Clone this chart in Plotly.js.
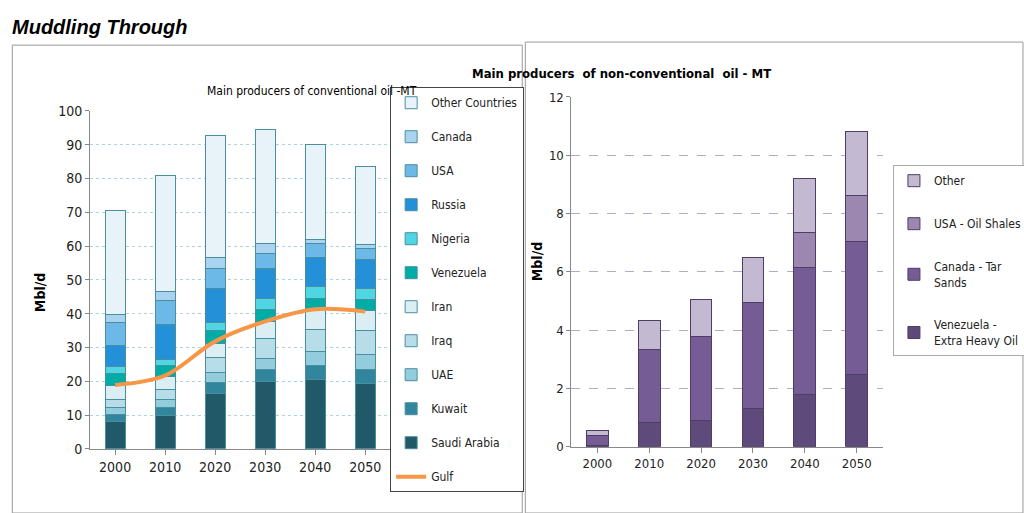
<!DOCTYPE html>
<html><head><meta charset="utf-8">
<script src="https://cdn.plot.ly/plotly-3.0.1.min.js"></script>
<style>body{margin:0}#chart{width:1024px;height:513px}</style>
</head><body><div id="chart"></div>
<script>
// conventional oil, Mbl/d, stacked bottom -> top
var years = ['2000', '2010', '2020', '2030', '2040', '2050'];
var convNames = ['Saudi Arabia', 'Kuwait', 'UAE', 'Iraq', 'Iran', 'Venezuela', 'Nigeria', 'Russia', 'USA', 'Canada', 'Other Countries'];
var convColors = ['#215968', '#31859C', '#93CDDD', '#B7DEE8', '#DAEEF3', '#00ACA6', '#4FD6E2', '#2390D8', '#6CB8E6', '#A9D3EF', '#E8F3F9'];
var saudi   = [8.1, 9.9, 16.5, 19.9, 20.6, 19.2];
var kuwait  = [2.2, 2.4, 3.1, 3.7, 4.1, 4.2];
var uae     = [2.0, 2.4, 3.0, 3.2, 4.1, 4.6];
var iraq    = [2.4, 2.8, 4.4, 5.9, 6.4, 6.9];
var iran    = [3.9, 3.9, 4.3, 5.0, 6.1, 5.9];
var venez   = [3.6, 3.2, 3.6, 3.6, 3.3, 3.5];
var nigeria = [2.2, 1.8, 2.5, 3.2, 3.4, 3.2];
var russia  = [6.2, 10.3, 9.9, 9.0, 8.7, 8.6];
var usa     = [6.8, 7.3, 6.1, 4.4, 4.0, 3.3];
var canada  = [2.2, 2.5, 3.1, 2.9, 1.1, 1.2];
var others  = [30.9, 34.3, 36.1, 33.6, 28.1, 22.9];
var gulf    = [18.9, 21.7, 31.8, 37.7, 41.3, 40.6];
var convSeries = [saudi, kuwait, uae, iraq, iran, venez, nigeria, russia, usa, canada, others];

// non-conventional oil
var ncNames = ['Venezuela -<br>Extra Heavy Oil', 'Canada - Tar<br>Sands', 'USA - Oil Shales', 'Other'];
var ncColors = ['#5F4B7B', '#765C95', '#9C87B0', '#C3B9D0'];
var ncVenez  = [0.03, 0.83, 0.89, 1.31, 1.81, 2.49];
var ncCanada = [0.37, 2.51, 2.91, 3.63, 4.33, 4.56];
var ncUsa    = [0, 0, 0, 0, 1.2, 1.58];
var ncOther  = [0.15, 0.98, 1.25, 1.54, 1.86, 2.17];
var ncSeries = [ncVenez, ncCanada, ncUsa, ncOther];

var font = 'DejaVu Sans Condensed, Liberation Sans Narrow, Arial, sans-serif';
var data = [{
  x: years, y: gulf, name: 'Gulf', type: 'scatter', mode: 'lines',
  line: {color: '#F79646', width: 4, shape: 'spline'},
  xaxis: 'x', yaxis: 'y', legend: 'legend', legendgroup: 'g', legendrank: 100
}];
convSeries.forEach(function (s, i) {
  data.push({x: years, y: s, name: convNames[i], type: 'bar', width: 0.4,
    marker: {color: convColors[i], line: {color: '#4A8FA0', width: 1}},
    xaxis: 'x', yaxis: 'y', legend: 'legend', legendgroup: 'c' + i, legendrank: 50 - i});
});
ncSeries.forEach(function (s, i) {
  data.push({x: years, y: s, name: ncNames[i], type: 'bar', width: 0.42,
    marker: {color: ncColors[i], line: {color: '#4E3D66', width: 1}},
    xaxis: 'x2', yaxis: 'y2', legend: 'legend2', legendgroup: 'n' + i, legendrank: 50 - i});
});

var layout = {
  width: 1024, height: 513, barmode: 'stack', showlegend: true,
  margin: {t: 0, b: 0, l: 0, r: 0, autoexpand: false},
  paper_bgcolor: '#fff', plot_bgcolor: '#fff',
  font: {family: font, size: 13, color: '#222'},
  xaxis: {domain: [0.088, 0.381], type: 'category', anchor: 'y', showline: true, linecolor: '#888',
    ticks: 'outside', ticklen: 5, tickcolor: '#888', tickfont: {size: 14}},
  yaxis: {domain: [0.125, 0.784], range: [0, 100], dtick: 10, anchor: 'x', showline: true, linecolor: '#888',
    ticks: 'outside', ticklen: 4, tickcolor: '#888', gridcolor: '#A8D4E0', griddash: 'dot', zeroline: false,
    tickfont: {size: 14}},
  xaxis2: {domain: [0.558, 0.862], type: 'category', anchor: 'y2', showline: true, linecolor: '#888',
    ticks: 'outside', ticklen: 5, tickcolor: '#888', tickfont: {size: 13}},
  yaxis2: {domain: [0.129, 0.811], range: [0, 12], dtick: 2, anchor: 'x2', showline: true, linecolor: '#888',
    ticks: 'outside', ticklen: 4, tickcolor: '#888', gridcolor: '#B7A9CC', griddash: 'dash', zeroline: false,
    tickfont: {size: 13}},
  legend: {x: 0.381, y: 0.83, xanchor: 'left', yanchor: 'top', traceorder: 'grouped', itemwidth: 30,
    tracegroupgap: 15, bordercolor: '#444', borderwidth: 1, bgcolor: '#fff', font: {size: 12}},
  legend2: {x: 0.872, y: 0.678, xanchor: 'left', yanchor: 'top', traceorder: 'grouped', itemwidth: 30,
    tracegroupgap: 24, bordercolor: '#aaa', borderwidth: 1, bgcolor: '#fff', font: {size: 12}},
  shapes: [
    {type: 'rect', xref: 'paper', yref: 'paper', x0: 0.012, x1: 0.51, y0: 0, y1: 0.912, line: {color: '#999', width: 1}},
    {type: 'rect', xref: 'paper', yref: 'paper', x0: 0.513, x1: 0.999, y0: 0, y1: 0.918, line: {color: '#999', width: 1}}
  ],
  annotations: [
    {text: '<b><i>Muddling Through</i></b>', xref: 'paper', yref: 'paper', x: 0.01, y: 0.948,
      xanchor: 'left', yanchor: 'middle', showarrow: false, font: {family: 'Liberation Sans, Arial', size: 20, color: '#000'}},
    {text: 'Main producers of conventional oil -MT', xref: 'paper', yref: 'paper', x: 0.2, y: 0.84,
      showarrow: false, font: {size: 12, color: '#000'}},
    {text: '<b>Main producers  of non-conventional  oil - MT</b>', xref: 'paper', yref: 'paper', x: 0.755, y: 0.875,
      showarrow: false, font: {size: 13, color: '#000'}},
    {text: '<b>Mbl/d</b>', xref: 'paper', yref: 'paper', x: 0.03, y: 0.43, textangle: -90,
      showarrow: false, font: {size: 14, color: '#000'}},
    {text: '<b>Mbl/d</b>', xref: 'paper', yref: 'paper', x: 0.524, y: 0.49, textangle: -90,
      showarrow: false, font: {size: 14, color: '#000'}}
  ]
};

Plotly.newPlot('chart', data, layout, {displayModeBar: false, staticPlot: true});
</script></body></html>
